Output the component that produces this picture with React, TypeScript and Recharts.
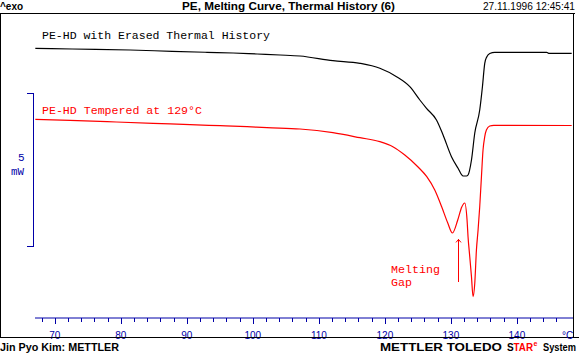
import React from 'react';
import { LineChart, Line, XAxis, YAxis, ReferenceLine } from 'recharts';

// Temperature (°C) and heat flow (mW, arbitrary offset)
const blackT = [67.05, 72.65, 81.42, 87.78, 93.07, 97.01, 100.64, 104.12, 107.14, 112.13, 116.22, 119.24, 121.77, 123.78, 125.3, 126.31, 127.82, 128.82, 130.09, 131.09, 131.85, 132.36, 132.6, 133.12, 133.62, 134.37, 134.78, 135.13, 135.43, 135.89, 136.65, 144.51, 144.81, 148.3];
const blackV = [8.785, 8.762, 8.73, 8.687, 8.655, 8.632, 8.599, 8.567, 8.534, 8.381, 8.296, 8.134, 7.86, 7.534, 7.101, 6.831, 6.45, 5.961, 5.254, 4.876, 4.625, 4.625, 4.658, 5.147, 6.026, 6.775, 7.534, 8.296, 8.502, 8.616, 8.655, 8.655, 8.622, 8.622];

const redT = [67.05, 77.94, 84.9, 90.5, 95.04, 99.12, 102.14, 107.14, 112.13, 116.22, 119.24, 121.21, 123.02, 124.99, 126.35, 127.56, 128.62, 129.53, 130.24, 131.04, 131.65, 132.1, 132.45, 132.6, 132.86, 133.12, 133.36, 133.62, 133.87, 134.12, 134.37, 134.63, 134.87, 135.13, 135.38, 135.89, 136.49, 148.3];
const redV = [6.472, 6.394, 6.342, 6.296, 6.264, 6.231, 6.199, 6.156, 6.036, 5.873, 5.743, 5.58, 5.309, 4.928, 4.603, 4.169, 3.616, 3.094, 2.769, 3.192, 3.616, 3.746, 3.192, 2.648, 1.997, 1.345, 0.694, 1.13, 2.215, 2.866, 3.625, 4.603, 5.472, 5.906, 6.124, 6.254, 6.277, 6.27];

const xTicks = [68, 70, 72, 74, 76, 78, 80, 82, 84, 86, 88, 90, 92, 94, 96, 98, 100, 102, 104, 106, 108, 110, 112, 114, 116, 118, 120, 122, 124, 126, 128, 130, 132, 134, 136, 138, 140, 142, 144, 146];
const labelledTicks = [70, 80, 90, 100, 110, 120, 130, 140];

const arrowT = 131.09;
const arrowFrom = 1.18;
const arrowTo = 2.56;

const blackData = blackT.map((t, i) => ({ t, v: blackV[i] }));
const redData = redT.map((t, i) => ({ t, v: redV[i] }));

const BLUE = '#0000a8';
const RED = '#ff0000';
const SANS = "'Liberation Sans', Arial, sans-serif";
const MONO = "'Liberation Mono', 'Courier New', monospace";

const Tick = (props: any) => {
  const { x, y, payload } = props;
  const v = payload.value;
  const major = v % 10 === 0;
  const xx = Math.round(x) + 0.5;
  return (
    <g>
      <line x1={xx} x2={xx} y1={y} y2={y + (major ? 6 : 4)} stroke={BLUE} strokeWidth={1} shapeRendering="crispEdges" />
      {labelledTicks.includes(v) && (
        <text x={x} y={y + 20.5} textAnchor="middle" fontFamily={SANS} fontSize={10} fill={BLUE}>
          {v}
        </text>
      )}
    </g>
  );
};

const Arrow = (p: any) => {
  const x = Math.round(p.x1) + 0.5;
  const yb = Math.min(p.y1, p.y2) === p.y1 ? p.y2 : p.y1;
  const yt = Math.min(p.y1, p.y2);
  return (
    <g>
      <line x1={x} x2={x} y1={yb} y2={yt} stroke={RED} strokeWidth={1} shapeRendering="crispEdges" />
      <path d={`M${x - 2.5},${yt + 3} L${x},${yt} L${x + 2.5},${yt + 3}`} stroke={RED} fill="none" strokeWidth={1} />
    </g>
  );
};

export default function App() {
  return (
    <div style={{ position: 'absolute', left: 0, top: 0, width: 579, height: 354, background: '#fff' }}>
      <div style={{ position: 'absolute', left: 0, top: 0 }}>
        <LineChart width={579} height={354} margin={{ top: 11, right: 6, bottom: 16, left: 35 }}>
          <XAxis
            dataKey="t"
            type="number"
            domain={[67, 148.5]}
            ticks={xTicks}
            interval={0}
            allowDataOverflow
            axisLine={{ stroke: BLUE, strokeWidth: 1 }}
            tickLine={false}
            tickSize={0}
            tickMargin={0}
            height={20}
            tick={<Tick />}
          />
          <YAxis hide type="number" domain={[0, 10]} allowDataOverflow />
          <Line data={blackData} dataKey="v" type="monotone" stroke="#000" strokeWidth={1.2} dot={false} isAnimationActive={false} />
          <Line data={redData} dataKey="v" type="monotone" stroke={RED} strokeWidth={1.2} dot={false} isAnimationActive={false} />
          <ReferenceLine
            segment={[{ x: arrowT, y: arrowFrom }, { x: arrowT, y: arrowTo }]}
            stroke={RED}
            shape={<Arrow />}
            ifOverflow="visible"
          />
        </LineChart>
      </div>
      <svg width={579} height={354} style={{ position: 'absolute', left: 0, top: 0, pointerEvents: 'none' }}>
        {/* frame */}
        <g stroke="#000" strokeWidth={1} shapeRendering="crispEdges">
          <line x1={0} x2={575} y1={13.5} y2={13.5} />
          <line x1={0.5} x2={0.5} y1={13} y2={338} />
          <line x1={573.5} x2={573.5} y1={13} y2={338} />
          <line x1={0} x2={579} y1={337.5} y2={337.5} />
        </g>
        {/* header */}
        <text x={0} y={10} fontFamily={SANS} fontWeight="bold" fontSize={10} fill="#000">^exo</text>
        <text x={182} y={10} fontFamily={SANS} fontWeight="bold" fontSize={10} fill="#000" textLength={213} lengthAdjust="spacingAndGlyphs">
          PE, Melting Curve, Thermal History (6)
        </text>
        <text x={483} y={10} fontFamily={SANS} fontSize={10} fill="#000" textLength={92} lengthAdjust="spacingAndGlyphs">
          27.11.1996 12:45:41
        </text>
        {/* footer */}
        <text x={0} y={351} fontFamily={SANS} fontWeight="bold" fontSize={10} fill="#000" textLength={119} lengthAdjust="spacingAndGlyphs">
          Jin Pyo Kim: METTLER
        </text>
        <text x={380} y={351} fontFamily={SANS} fontWeight="bold" fontSize={10} fill="#000" textLength={122} lengthAdjust="spacingAndGlyphs">
          METTLER TOLEDO
        </text>
        <text x={507} y={351} fontFamily={SANS} fontWeight="bold" fontSize={10} fill="#000">S</text>
        <text x={513.5} y={351} fontFamily={SANS} fontWeight="bold" fontSize={10} fill={RED} textLength={19.5} lengthAdjust="spacingAndGlyphs">TAR</text>
        <text x={533.5} y={346} fontFamily={SANS} fontWeight="bold" fontSize={7} fill={RED}>e</text>
        <text x={543} y={351} fontFamily={SANS} fontWeight="bold" fontSize={10} fill="#000" textLength={33} lengthAdjust="spacingAndGlyphs">System</text>
        {/* unit */}
        <text x={562} y={338.5} fontFamily={SANS} fontSize={10} fill={BLUE}>°C</text>
        {/* curve labels */}
        <text x={42} y={38.5} fontFamily={MONO} fontSize={11.5} fill="#000" textLength={228} lengthAdjust="spacingAndGlyphs">
          PE-HD with Erased Thermal History
        </text>
        <text x={42} y={114} fontFamily={MONO} fontSize={11.5} fill={RED} textLength={160} lengthAdjust="spacingAndGlyphs">
          PE-HD Tempered at 129°C
        </text>
        <text x={391} y={272.5} fontFamily={MONO} fontSize={11.5} fill={RED} textLength={49} lengthAdjust="spacingAndGlyphs">Melting</text>
        <text x={391} y={285.5} fontFamily={MONO} fontSize={11.5} fill={RED} textLength={21} lengthAdjust="spacingAndGlyphs">Gap</text>
        {/* 5 mW scale bar */}
        <g stroke={BLUE} strokeWidth={1} shapeRendering="crispEdges" fill="none">
          <path d="M26.5,93.5 H33.5 V246.5 H26.5" />
        </g>
        <text x={18} y={161} fontFamily={MONO} fontSize={11} fill={BLUE}>5</text>
        <text x={11} y={175} fontFamily={MONO} fontSize={11} fill={BLUE} textLength={13} lengthAdjust="spacingAndGlyphs">mW</text>
      </svg>
    </div>
  );
}
